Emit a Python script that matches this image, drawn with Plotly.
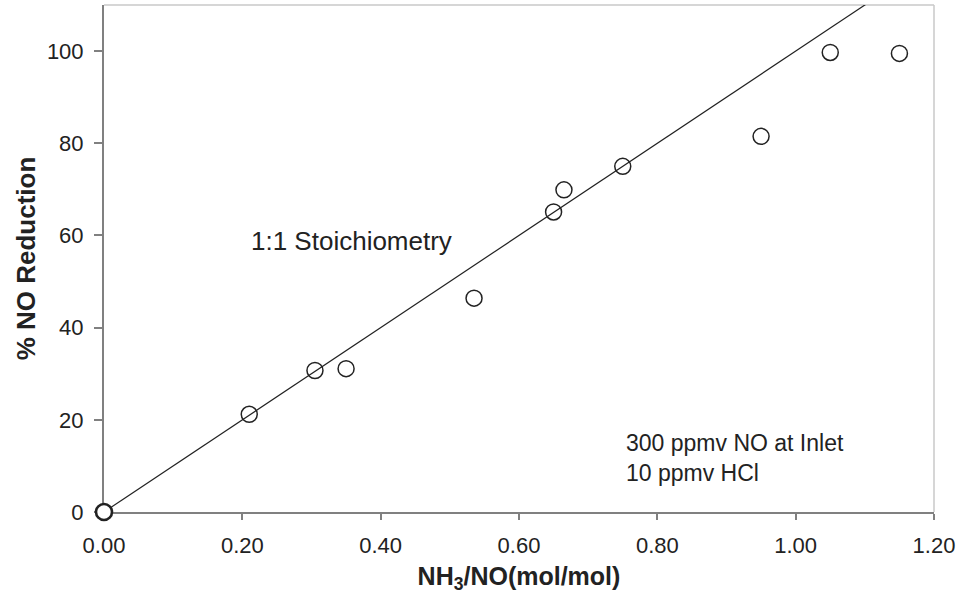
import plotly.graph_objects as go

# Data
nh3_no = [0.0, 0.21, 0.305, 0.35, 0.535, 0.65, 0.665, 0.75, 0.95, 1.05, 1.15]
no_reduction = [0.0, 21.2, 30.7, 31.1, 46.4, 65.1, 69.9, 75.0, 81.5, 99.7, 99.5]
stoich_x = [0.0, 1.2]
stoich_y = [0.0, 120.0]

x_ticks = [0.0, 0.2, 0.4, 0.6, 0.8, 1.0, 1.2]
y_ticks = [0, 20, 40, 60, 80, 100]

FONT = "Liberation Sans, Arial, sans-serif"

n = len(nh3_no)
fig = go.Figure()
fig.add_trace(go.Scatter(
    x=stoich_x, y=stoich_y, mode="lines",
    line=dict(color="#222222", width=1.2),
    showlegend=False, hoverinfo="skip",
))
fig.add_trace(go.Scatter(
    x=nh3_no, y=no_reduction, mode="markers",
    marker=dict(symbol="circle", size=16,
                color=["white"] + ["rgba(0,0,0,0)"] * (n - 1),
                line=dict(width=[2.6] + [1.5] * (n - 1), color="#222222")),
    showlegend=False, cliponaxis=False,
))

fig.update_layout(
    width=961, height=598,
    margin=dict(l=104, r=27, t=5, b=86),
    paper_bgcolor="white", plot_bgcolor="white",
    font=dict(family=FONT, size=22, color="#222222"),
    xaxis=dict(
        range=[0, 1.2], tickvals=x_ticks, tickformat=".2f",
        showgrid=False, zeroline=False, layer="below traces",
        showline=True, linecolor="#808080", linewidth=2,
        ticks="outside", ticklen=6, tickcolor="#808080", tickwidth=1.5,
        ticklabelstandoff=7,
        tickfont=dict(size=22, family=FONT, color="#222222"),
        title=dict(text="<b>NH<sub>3</sub>/NO(mol/mol)</b>",
                   font=dict(size=25, family=FONT), standoff=10),
    ),
    yaxis=dict(
        range=[0, 110], tickvals=y_ticks,
        showgrid=False, zeroline=False, layer="below traces",
        showline=True, linecolor="#808080", linewidth=2,
        ticks="outside", ticklen=8, tickcolor="#808080", tickwidth=1.5,
        ticklabelstandoff=6,
        tickfont=dict(size=22, family=FONT, color="#222222"),
        title=dict(text="<b>% NO Reduction</b>",
                   font=dict(size=26, family=FONT), standoff=4),
    ),
    shapes=[
        dict(type="line", xref="paper", yref="paper", x0=0, x1=1, y0=1, y1=1,
             line=dict(color="#c8c8c8", width=1.5), layer="below"),
        dict(type="line", xref="paper", yref="paper", x0=1, x1=1, y0=0, y1=1,
             line=dict(color="#c8c8c8", width=1.5), layer="below"),
    ],
    annotations=[
        dict(x=0.21, y=58.8, xref="x", yref="y", text="1:1 Stoichiometry",
             showarrow=False, xanchor="left", yanchor="middle",
             font=dict(size=26, family=FONT, color="#222222")),
        dict(x=0.752, y=11.8, xref="x", yref="y",
             text="300 ppmv NO at Inlet<br>10 ppmv HCl",
             showarrow=False, xanchor="left", yanchor="middle", align="left",
             font=dict(size=23, family=FONT, color="#222222")),
    ],
)

fig.write_html("out.html")
